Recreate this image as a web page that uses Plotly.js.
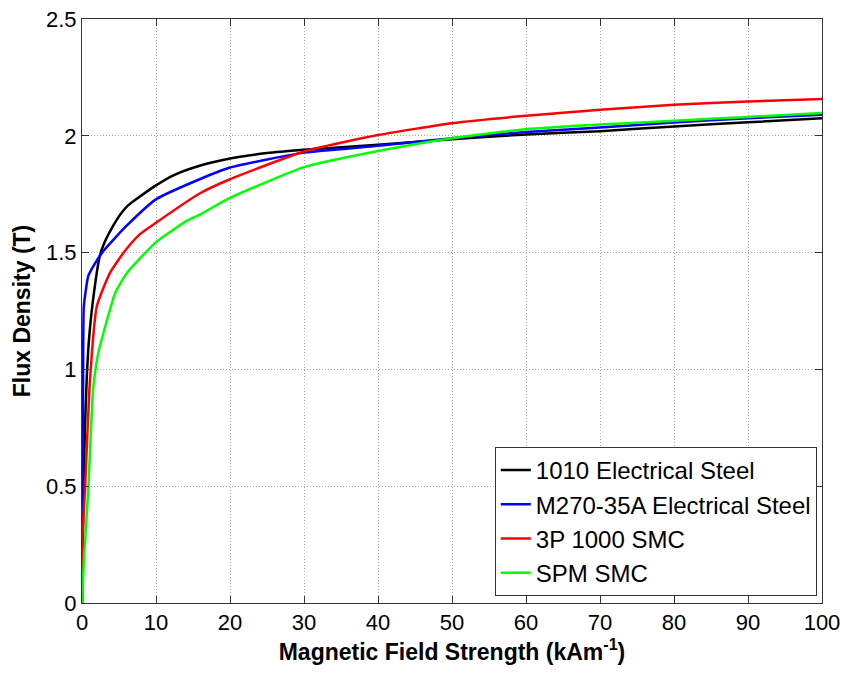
<!DOCTYPE html>
<html>
<head>
<meta charset="utf-8">
<script src="https://cdn.plot.ly/plotly-3.0.1.min.js"></script>
<style>html,body{margin:0;padding:0;background:#fff;}#chart{width:846px;height:675px;}</style>
</head>
<body>
<div id="chart"></div>
<script>
var seriesNames = ["1010 Electrical Steel", "M270-35A Electrical Steel", "3P 1000 SMC", "SPM SMC"];
var seriesColors = ["#000000", "#0000ff", "#ff0000", "#00ff00"];

var h1010 = [0, 0.1, 0.2, 0.4, 0.65, 1.0, 1.5, 2.4, 3, 4.2, 5, 6, 7.4, 10, 12.5, 15.9, 20, 25, 30, 40, 50, 60, 70, 80, 90, 100];
var b1010 = [0, 0.25, 0.46, 0.75, 0.97, 1.15, 1.30, 1.485, 1.54, 1.614, 1.655, 1.695, 1.73, 1.788, 1.833, 1.872, 1.903, 1.926, 1.94, 1.962, 1.985, 2.006, 2.02, 2.04, 2.058, 2.075];

var hM270 = [0, 0.05, 0.1, 0.15, 0.25, 0.85, 1.5, 2.9, 6, 10, 15.9, 20, 30, 40, 50, 60, 70, 80, 90, 100];
var bM270 = [0, 0.5, 0.74, 0.96, 1.27, 1.40, 1.44, 1.507, 1.614, 1.728, 1.814, 1.864, 1.928, 1.957, 1.99, 2.016, 2.035, 2.057, 2.075, 2.09];

var h3P = [0, 0.05, 0.4, 1.08, 2.0, 3.8, 5.8, 7.8, 10, 15.9, 20, 30, 40, 50, 60, 70, 80, 90, 100];
var b3P = [0, 0.27, 0.485, 0.956, 1.27, 1.414, 1.507, 1.578, 1.628, 1.753, 1.814, 1.933, 2.003, 2.054, 2.086, 2.111, 2.133, 2.147, 2.157];

var hSPM = [0, 0.3, 0.85, 1.5, 2.2, 2.9, 4.5, 6, 7.8, 10, 14.1, 16, 20, 30, 40, 50, 60, 70, 80, 90, 100];
var bSPM = [0, 0.21, 0.485, 0.913, 1.07, 1.156, 1.328, 1.41, 1.474, 1.545, 1.635, 1.664, 1.734, 1.866, 1.935, 1.99, 2.028, 2.048, 2.064, 2.081, 2.098];

var xTicks = [0, 10, 20, 30, 40, 50, 60, 70, 80, 90, 100];
var yTicks = [0, 0.5, 1, 1.5, 2, 2.5];
var yTickText = ["0", "0.5", "1", "1.5", "2", "2.5"];

var xs = [h1010, hM270, h3P, hSPM];
var ys = [b1010, bM270, b3P, bSPM];
var traces = xs.map(function (x, i) {
  return {x: x, y: ys[i], type: "scatter", mode: "lines", name: seriesNames[i],
    line: {color: seriesColors[i], width: 2.5, shape: "spline", smoothing: 0.5}};
});

var fontFam = "Liberation Sans, Arial, sans-serif";
var axisCommon = {
  showgrid: true, gridcolor: "#a8a8a8", griddash: "1px,2px", gridwidth: 1,
  zeroline: false, showline: true, linecolor: "#333", linewidth: 1, mirror: "ticks",
  ticks: "inside", ticklen: 7, tickcolor: "#333", tickfont: {family: fontFam, size: 22, color: "#000"}
};
var layout = {
  width: 846, height: 675,
  margin: {l: 82, r: 24, t: 19, b: 72},
  paper_bgcolor: "#fff", plot_bgcolor: "#fff",
  showlegend: true,
  legend: {x: 0.993, y: 0.012, xanchor: "right", yanchor: "bottom",
    bordercolor: "#333", borderwidth: 1, bgcolor: "#fff",
    font: {family: fontFam, size: 24, color: "#000"}, tracegroupgap: 0},
  xaxis: Object.assign({}, axisCommon, {range: [0, 100], tickvals: xTicks,
    title: {text: "<b>Magnetic Field Strength (kAm<sup>-1</sup>)</b>", font: {family: fontFam, size: 23, color: "#000"}, standoff: 8}}),
  yaxis: Object.assign({}, axisCommon, {range: [0, 2.5], tickvals: yTicks, ticktext: yTickText,
    title: {text: "<b>Flux Density (T)</b>", font: {family: fontFam, size: 23, color: "#000"}, standoff: 8}})
};
Plotly.newPlot("chart", traces, layout, {staticPlot: true});
</script>
</body>
</html>
